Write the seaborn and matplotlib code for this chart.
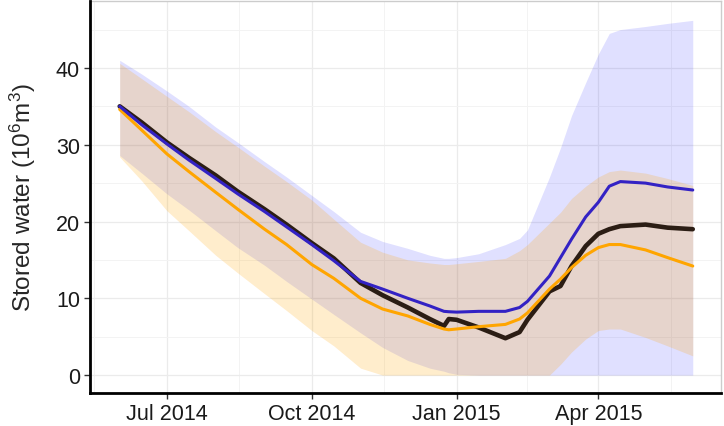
import pandas as pd
import numpy as np
import seaborn as sns
import matplotlib
matplotlib.use('Agg')
import matplotlib.pyplot as plt
import matplotlib.dates as mdates

dates = ['2014-06-01', '2014-06-15', '2014-07-01', '2014-07-15', '2014-08-01',
         '2014-08-15', '2014-09-01', '2014-09-15', '2014-10-01', '2014-10-15',
         '2014-11-01', '2014-11-15', '2014-12-01', '2014-12-15', '2014-12-24',
         '2014-12-27', '2015-01-01', '2015-01-15', '2015-02-01', '2015-02-10',
         '2015-02-15', '2015-03-01', '2015-03-08', '2015-03-15', '2015-03-24',
         '2015-04-01', '2015-04-08', '2015-04-15', '2015-05-01', '2015-05-15',
         '2015-05-31']

observed = [35.0, 32.9, 30.3, 28.3, 26.0, 23.9, 21.6, 19.6, 17.2, 15.2,
            12.0, 10.4, 8.8, 7.3, 6.4, 7.3, 7.2, 6.2, 4.8, 5.6,
            7.2, 10.9, 11.6, 14.2, 16.8, 18.4, 19.0, 19.4, 19.6, 19.2,
            19.0]
model_blue = [35.0, 32.6, 30.1, 28.0, 25.6, 23.6, 21.3, 19.3, 17.0, 14.9,
              12.2, 11.2, 10.0, 9.0, 8.3, 8.25, 8.2, 8.3, 8.3, 8.8,
              9.6, 12.9, 15.3, 17.7, 20.6, 22.5, 24.6, 25.2, 25.0, 24.5,
              24.1]
model_orange = [34.6, 31.9, 28.8, 26.5, 23.8, 21.6, 19.0, 17.0, 14.4, 12.6,
                10.0, 8.6, 7.7, 6.6, 6.0, 5.9, 6.0, 6.3, 6.6, 7.3,
                8.1, 11.2, 12.5, 14.0, 15.6, 16.6, 17.0, 17.0, 16.3, 15.3,
                14.2]

blue_hi = [41.0, 39.2, 37.0, 35.0, 32.3, 30.3, 27.8, 25.8, 23.4, 21.3,
           18.6, 17.4, 16.5, 15.6, 15.2, 15.2, 15.3, 15.8, 17.0, 17.8,
           18.9, 25.8, 29.6, 33.8, 38.1, 41.8, 44.5, 45.0, 45.4, 45.8,
           46.2]
blue_lo = [28.6, 26.3, 23.6, 21.5, 18.8, 16.6, 14.3, 12.2, 9.9, 7.9,
           5.5, 3.6, 1.9, 0.9, 0.5, 0.3, 0.1, 0, 0, 0,
           0, 0, 0, 0, 0, 0, 0, 0, 0, 0,
           0]
orange_hi = [40.6, 38.6, 36.3, 34.3, 31.7, 29.7, 27.2, 25.2, 22.8, 20.3,
             17.3, 16.0, 15.0, 14.6, 14.4, 14.4, 14.5, 14.8, 15.2, 16.2,
             17.0, 19.8, 21.2, 23.0, 24.6, 25.8, 26.5, 26.7, 26.3, 25.6,
             24.7]
orange_lo = [28.4, 25.3, 21.4, 18.8, 15.6, 13.3, 10.6, 8.4, 5.8, 3.8,
             0.9, 0, 0, 0, 0, 0, 0, 0, 0, 0,
             0, 0, 1.4, 3.0, 4.7, 5.8, 6.0, 6.0, 4.9, 3.8,
             2.5]

sns.set_style('white')
plt.rcParams['font.family'] = ['Liberation Sans', 'DejaVu Sans']
plt.rcParams['mathtext.default'] = 'regular'

t = pd.to_datetime(dates)
df = pd.DataFrame({'date': t, 'observed': observed,
                   'blue': model_blue, 'orange': model_orange})

fig, ax = plt.subplots(figsize=(7.24, 4.27), dpi=100)
fig.subplots_adjust(left=0.124, right=0.996, top=0.995, bottom=0.077)

# uncertainty bands
ax.fill_between(t, blue_lo, blue_hi, color='#0000FF', alpha=0.12, lw=0, zorder=2)
ax.fill_between(t, orange_lo, orange_hi, color='#FFA500', alpha=0.2, lw=0, zorder=2)

sns.lineplot(data=df, x='date', y='observed', color='#2B1D14', lw=3.3, ax=ax, zorder=4)
sns.lineplot(data=df, x='date', y='orange', color='#FFA500', lw=2.2, ax=ax, zorder=5)
sns.lineplot(data=df, x='date', y='blue', color='#3322C4', lw=2.2, ax=ax, zorder=6)

ax.set_xlim(pd.Timestamp('2014-05-13'), pd.Timestamp('2015-06-18'))
ax.set_ylim(-2.35, 48.7)

ax.xaxis.set_major_locator(mdates.MonthLocator(bymonth=[1, 4, 7, 10]))
ax.xaxis.set_major_formatter(mdates.DateFormatter('%b %Y'))
minor_x = pd.to_datetime(['2014-05-16', '2014-08-16', '2014-11-16', '2015-02-15', '2015-05-17'])
ax.set_xticks(minor_x, minor=True)
ax.set_yticks([0, 10, 20, 30, 40])
ax.set_yticks([5, 15, 25, 35, 45], minor=True)

ax.grid(True, which='major', color='#EBEBEB', lw=0.9, zorder=0)
ax.grid(True, which='minor', color='#F3F3F3', lw=0.7, zorder=0)
ax.set_axisbelow(True)

ax.tick_params(axis='both', which='major', length=4, width=1, color='#333333',
               labelsize=15.5, labelcolor='#1A1A1A', direction='out', pad=3,
               bottom=True, left=True)
ax.tick_params(axis='both', which='minor', length=0)

for side in ['top', 'right']:
    ax.spines[side].set_color('#CCCCCC')
    ax.spines[side].set_linewidth(1.0)
for side in ['left', 'bottom']:
    ax.spines[side].set_color('black')
    ax.spines[side].set_linewidth(2.0)
    ax.spines[side].set_zorder(7)

ax.set_xlabel('')
ax.set_ylabel('Stored water ($10^6$m$^3$)', fontsize=17.5, labelpad=13)

plt.savefig('out.png', dpi=100)
